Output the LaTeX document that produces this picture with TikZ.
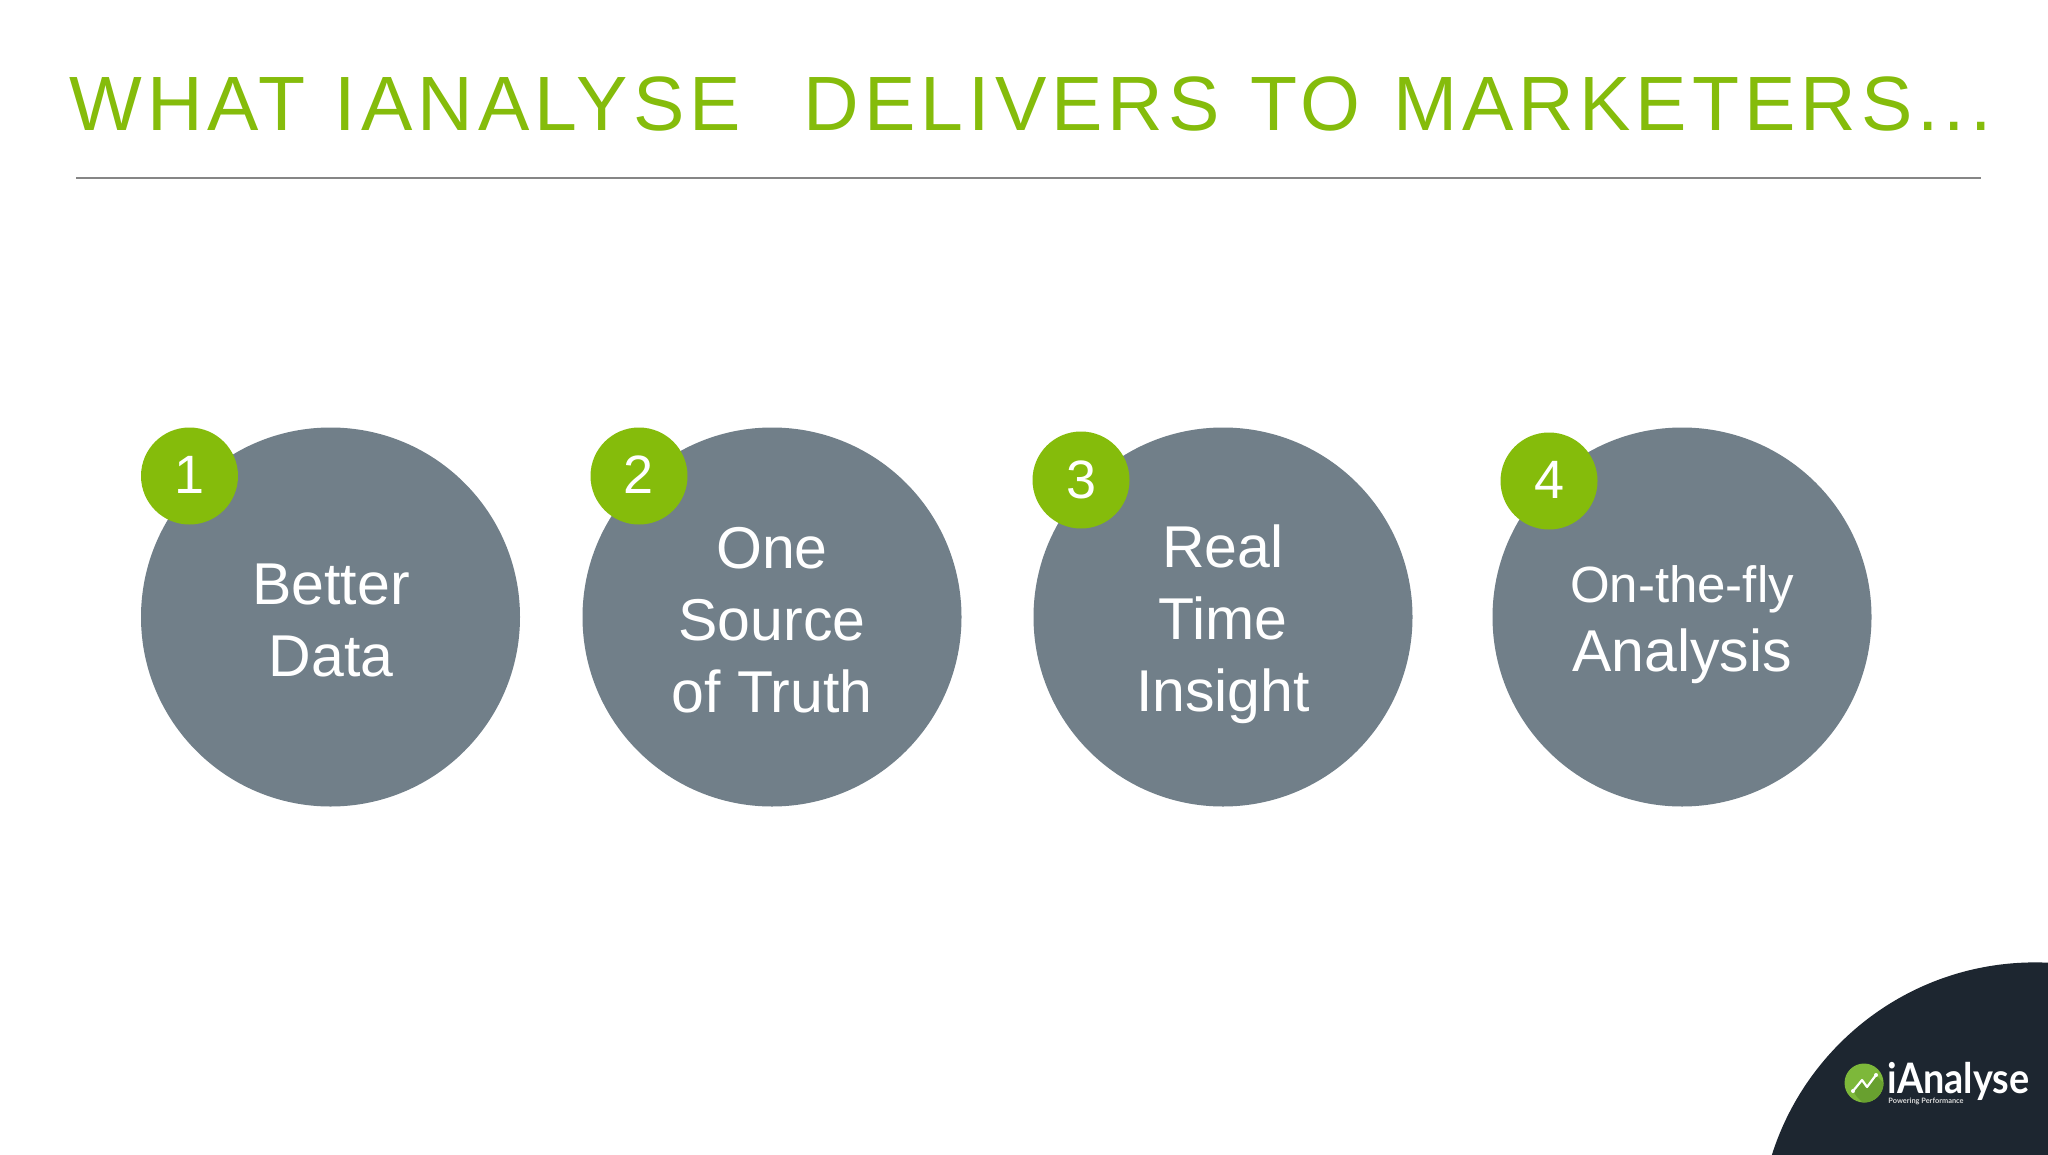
\documentclass[tikz,border=0pt]{standalone}
\usepackage{fontspec}
\setmainfont{Liberation Sans}
\newfontfamily\titlefont[LetterSpace=6.5]{Liberation Sans}
\newfontfamily\logofont{Lato}
\definecolor{brandgreen}{HTML}{85BC0B}
\definecolor{slategrey}{HTML}{717F89}
\definecolor{cornerdark}{HTML}{1D2630}
\definecolor{rulegrey}{HTML}{868686}
\definecolor{logogreen}{HTML}{7DB83A}
\definecolor{logoshade}{HTML}{68A02F}
\tikzset{
  x=0.5pt,y=-0.5pt,
  bigdisc/.style={circle,fill=slategrey,minimum size=189.5pt,inner sep=0pt},
  badge/.style={circle,fill=brandgreen,minimum size=48.5pt,inner sep=0pt,text=white,font=\fontsize{27}{27}\selectfont},
  lab/.style={text=white,align=center,inner sep=0pt,font=\fontsize{29.5}{36}\selectfont},
}
\begin{document}
\begin{tikzpicture}
\useasboundingbox (0,0) rectangle (2048,1155);
\fill[white] (0,0) rectangle (2048,1155);
% title
\node[anchor=base west,inner sep=0pt,text=brandgreen,font=\fontsize{38.5}{40}\selectfont\titlefont] (title) at (69,131) {WHAT\hspace{0.04em} IANALYSE\hspace{0.478em} DELIVERS\hspace{0.05em} TO\hspace{0.08em} MARKETERS...};
\coordinate (ruleL) at (76,178);
\coordinate (ruleR) at (1981,178);
\draw[rulegrey,line width=1pt] (ruleL) -- (ruleR);
% circles
\node[bigdisc] (d1) at (330.5,617) {};
\node[bigdisc] (d2) at (772,617) {};
\node[bigdisc] (d3) at (1223,617) {};
\node[bigdisc] (d4) at (1682,617) {};
\node[lab] (t1) at (331,620) {Better\\Data};
\node[lab] (t2) at (772,620) {One\\Source\\of Truth};
\node[lab] (t3) at (1223,624) {Real\\Time\\Insight};
\node[lab] (t4) at (1682,625) {{\fontsize{25.5}{33}\selectfont On-the-fly}\\[-1.5pt]Analysis};
\node[badge] (b1) at (189.5,476) {\raisebox{1pt}{1}};
\node[badge] (b2) at (639,476) {\raisebox{1pt}{2}};
\node[badge] (b3) at (1081,480) {3};
\node[badge] (b4) at (1549,481) {\raisebox{1pt}{4}};
% corner with logo
\begin{scope}
\clip (0,0) rectangle (2048,1155);
\fill[cornerdark] (2035,1238.4) circle[radius=276];
\end{scope}
\node[circle,fill=logogreen,minimum size=19.5pt,inner sep=0pt] (logo) at (1864,1083) {};
\begin{scope}
\clip (1864,1083) circle[radius=19.5];
\fill[logoshade] (1853,1091) -- (1862,1080) -- (1867,1087) -- (1876,1075) -- (1890,1090) -- (1870,1110) -- (1857,1097) -- cycle;
\end{scope}
\coordinate (p1) at (1853,1091);
\coordinate (p2) at (1862,1080);
\coordinate (p3) at (1867,1087);
\coordinate (p4) at (1876,1075);
\draw[white,line width=1.1pt,line join=round] (p1) -- (p2) -- (p3) -- (p4);
\fill[white] (p1) circle[radius=2] (p4) circle[radius=2];
\node[anchor=base west,inner sep=0pt,text=white,font=\fontsize{21}{21}\selectfont\logofont\bfseries] (brand) at (1887,1093) {\scalebox{0.9}[1]{iAnalyse}};
\node[anchor=base west,inner sep=0pt,text=white!85!black,font=\fontsize{3.7}{5}\selectfont\logofont\bfseries] (tag) at (1888,1103.5) {Powering Performance};
\end{tikzpicture}
\end{document}
